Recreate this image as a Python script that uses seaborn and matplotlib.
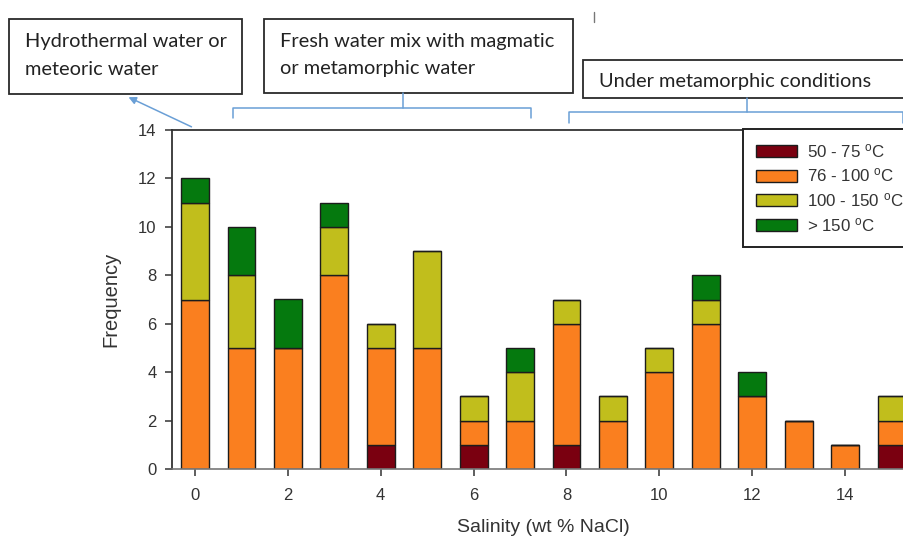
import matplotlib
matplotlib.use("Agg")
import matplotlib.pyplot as plt
import numpy as np
import pandas as pd
import seaborn as sns
from matplotlib.patches import Rectangle, FancyArrowPatch
from matplotlib.lines import Line2D

# ---------------- data ----------------
salinity = list(range(16))
t50_75 = [0, 0, 0, 0, 1, 0, 1, 0, 1, 0, 0, 0, 0, 0, 0, 1]
t76_100 = [7, 5, 5, 8, 4, 5, 1, 2, 5, 2, 4, 6, 3, 2, 1, 1]
t100_150 = [4, 3, 0, 2, 1, 4, 1, 2, 1, 1, 1, 1, 0, 0, 0, 1]
t150 = [1, 2, 2, 1, 0, 0, 0, 1, 0, 0, 0, 1, 1, 0, 0, 0]
series = [t50_75, t76_100, t100_150, t150]
labels = [r"50 - 75 $^{\mathrm{o}}$C", r"76 - 100 $^{\mathrm{o}}$C",
          r"100 - 150 $^{\mathrm{o}}$C", r"> 150 $^{\mathrm{o}}$C"]
colors = ["#7A0010", "#FA7F1F", "#C1BE1C", "#05790E"]
yticks = [0, 2, 4, 6, 8, 10, 12, 14]
xticks = [0, 2, 4, 6, 8, 10, 12, 14]
box_texts = [["Hydrothermal water or", "meteoric water"],
             ["Fresh water mix with magmatic", "or metamorphic water"],
             ["Under metamorphic conditions"]]

# ---------------- style ----------------
sns.set_style("ticks")
plt.rcParams["font.family"] = ["Liberation Sans", "DejaVu Sans"]
plt.rcParams["mathtext.fontset"] = "custom"
plt.rcParams["mathtext.rm"] = "Liberation Sans"
plt.rcParams["mathtext.it"] = "Liberation Sans"

W, H = 904, 541
fig = plt.figure(figsize=(W / 100, H / 100), dpi=100)
fig.patch.set_facecolor("white")


def fx(px):
    return px / W


def fy(py):
    return 1 - py / H


# axes: x=-0.5 at px 171.8, 46.43 px per unit; y 0 at 469, 14 at 130
left_px, right_px = 171.8, 171.8 + 16 * 46.43
ax = fig.add_axes([fx(left_px), fy(469), (right_px - left_px) / W, 339 / H])
ax.set_facecolor("white")

df = pd.DataFrame({"salinity": salinity})
bottom = np.zeros(len(salinity))
for vals, col, lab in zip(series, colors, labels):
    df["v"] = vals
    sns.barplot(data=df, x="salinity", y="v", bottom=bottom, color=col,
                width=0.6, edgecolor="#1c1c1c", linewidth=1.0,
                native_scale=True, label=lab, ax=ax, saturation=1)
    bottom = bottom + np.array(vals)

ax.set_xlim(-0.5, 15.5)
ax.set_ylim(0, 14)
ax.set_xticks(xticks)
ax.set_xticklabels([str(t) for t in xticks])
ax.set_yticks(yticks)
ax.set_yticklabels([str(t) for t in yticks])
ax.tick_params(axis="both", direction="out", length=5, width=1.1,
               color="#333333", labelsize=12, labelcolor="#333333")
ax.tick_params(axis="y", pad=6)
ax.tick_params(axis="x", pad=9)

for s in ["left", "top"]:
    ax.spines[s].set_color("#333333")
    ax.spines[s].set_linewidth(1.3)
ax.spines["bottom"].set_color("#777777")
ax.spines["bottom"].set_linewidth(1.2)
ax.spines["right"].set_visible(False)

ax.set_xlabel("Salinity (wt % NaCl)", fontsize=14, color="#333333")
ax.set_ylabel("Frequency", fontsize=14.5, color="#333333")
ax.xaxis.set_label_coords((543 - left_px) / (right_px - left_px), (469 - 519) / 339)
ax.yaxis.set_label_coords((120 - left_px) / (right_px - left_px), 0.5)

# legend frame and legend
fig.add_artist(Rectangle((fx(743), fy(247)), (940 - 743) / W, (247 - 129) / H,
                         transform=fig.transFigure, facecolor="white",
                         edgecolor="#222222", linewidth=1.4, zorder=3))
handles, labs = ax.get_legend_handles_labels()
leg = ax.legend(handles, labs, loc="upper left",
                bbox_to_anchor=(fx(756), fy(142)), bbox_transform=fig.transFigure,
                frameon=False, borderpad=0, borderaxespad=0, handlelength=2.4,
                handleheight=0.72, handletextpad=0.6, labelspacing=0.39,
                fontsize=12.2)
for t in leg.get_texts():
    t.set_color("#333333")
leg.set_zorder(5)
fig.add_artist(leg)

# annotation boxes
boxes = [(9, 19, 242, 94), (264, 19, 573, 93), (583, 60, 940, 98)]
for (x0, y0, x1, y1) in boxes:
    fig.add_artist(Rectangle((fx(x0), fy(y1)), (x1 - x0) / W, (y1 - y0) / H,
                             transform=fig.transFigure, facecolor="white",
                             edgecolor="#2a2a2a", linewidth=1.3, zorder=3))

text_pos = [[(25, 47), (25, 75)], [(280, 47), (280, 74)], [(599, 87)]]
for lines, poss in zip(box_texts, text_pos):
    for line, (tx, ty) in zip(lines, poss):
        fig.text(fx(tx), fy(ty), line, ha="left", va="baseline",
                 fontsize=14.4, family=["Lato", "DejaVu Sans"],
                 color="#222222", zorder=4)

# brackets
blue = "#6A9FD6"
brackets = [
    [(233, 118), (233, 108), (531, 108), (531, 118)],
    [(403, 93), (403, 108)],
    [(569, 123), (569, 112), (903, 112), (903, 123)],
    [(747, 98), (747, 112)],
]
for pts in brackets:
    xs = [fx(p[0]) for p in pts]
    ys = [fy(p[1]) for p in pts]
    fig.add_artist(Line2D(xs, ys, transform=fig.transFigure, color=blue,
                          linewidth=1.1, zorder=4))

fig.add_artist(FancyArrowPatch(posA=(fx(194), fy(128)), posB=(fx(126), fy(96)),
                               transform=fig.transFigure, arrowstyle="-|>",
                               mutation_scale=11, color=blue, linewidth=1.1,
                               zorder=4))

# small stray mark at top
fig.add_artist(Line2D([fx(594), fx(594)], [fy(12), fy(22)],
                      transform=fig.transFigure, color="#777777", linewidth=1))

fig.savefig("out.png", dpi=100)
